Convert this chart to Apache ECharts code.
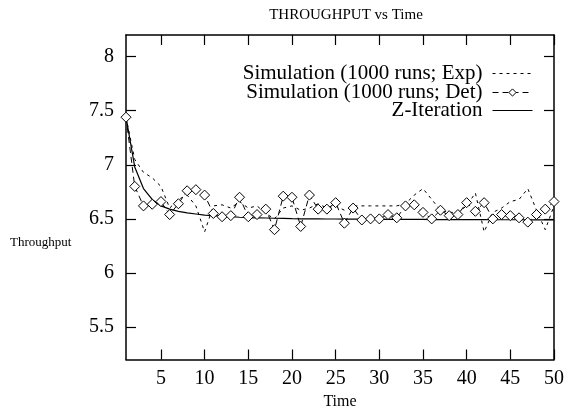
<!DOCTYPE html>
<html><head><meta charset="utf-8">
<script src="https://cdn.jsdelivr.net/npm/echarts@6/dist/echarts.min.js"></script>
<style>html,body{margin:0;padding:0;background:#fff}#c{width:567px;height:418px}</style>
</head><body><div id="c"></div>
<script>
const time = [1,2,3,4,5,6,7,8,9,10,11,12,13,14,15,16,17,18,19,20,21,22,23,24,25,26,27,28,29,30,31,32,33,34,35,36,37,38,39,40,41,42,43,44,45,46,47,48,49,50];
const simExp = [7.44,7.05,6.93,6.88,6.80,6.60,6.68,6.72,6.62,6.38,6.62,6.63,6.60,6.66,6.60,6.62,6.55,6.50,6.60,6.62,6.58,6.60,6.64,6.60,6.62,6.58,6.62,6.62,6.62,6.62,6.62,6.62,6.64,6.72,6.78,6.68,6.58,6.56,6.56,6.62,6.74,6.38,6.56,6.60,6.66,6.68,6.78,6.58,6.40,6.62];
const simDet = [7.44,6.80,6.62,6.635,6.66,6.54,6.64,6.76,6.77,6.72,6.55,6.52,6.53,6.70,6.52,6.54,6.59,6.40,6.71,6.70,6.43,6.72,6.59,6.59,6.65,6.46,6.60,6.49,6.50,6.50,6.54,6.51,6.62,6.63,6.56,6.50,6.58,6.53,6.54,6.65,6.57,6.65,6.50,6.54,6.53,6.51,6.47,6.54,6.59,6.66];
const zIter = [7.44,6.98,6.78,6.68,6.62,6.59,6.57,6.555,6.545,6.535,6.53,6.525,6.52,6.515,6.512,6.51,6.508,6.506,6.504,6.502,6.501,6.50,6.50,6.499,6.499,6.498,6.498,6.497,6.497,6.496,6.496,6.496,6.495,6.495,6.495,6.494,6.494,6.494,6.493,6.493,6.493,6.493,6.492,6.492,6.492,6.492,6.491,6.491,6.491,6.491];
const xTicks = [5,10,15,20,25,30,35,40,45,50];
const yTicks = [5.5,6,6.5,7,7.5,8];
const names = ['Simulation (1000 runs; Exp)','Simulation (1000 runs; Det)','Z-Iteration'];
const titleText = 'THROUGHPUT vs Time';
const xName = 'Time', yName = 'Throughput';

const FONT = '"Liberation Serif","DejaVu Serif",serif';
const chart = echarts.init(document.getElementById('c'), null, {renderer:'canvas'});
const pair = arr => time.map((t,i)=>[t, arr[i]]);
const axLine = {show:true, onZero:false, lineStyle:{color:'#000', width:1.5}};
const tick = vals => ({show:true, inside:true, length:10, customValues:vals, lineStyle:{color:'#000', width:1.2}});
const legendBase = (name, top, hideSym) => ({
  data:[name], right:34, top:top, orient:'vertical', align:'right',
  itemWidth:40, itemHeight:9, padding:0,
  itemStyle: hideSym ? {opacity:0} : {color:'#fff', borderColor:'#000', borderWidth:1},
  lineStyle:{width:1, color:'#000'},
  textStyle:{fontFamily:FONT, fontSize:21, color:'#000', padding:[0,5,0,0]},
  inactiveColor:'#000'
});
chart.setOption({
  animation:false,
  backgroundColor:'#fff',
  title:{text:titleText, left:341, textAlign:'center', top:3, textStyle:{fontFamily:FONT, fontSize:15, fontWeight:'normal', color:'#000'}},
  legend:[legendBase(names[0],63,true), legendBase(names[1],82,false), legendBase(names[2],100,true)],
  grid:{left:126, right:10, top:35, bottom:58.5, containLabel:false},
  xAxis:[
    {type:'value', min:1, max:50, axisLine:axLine, axisTick:tick(xTicks), splitLine:{show:false},
     axisLabel:{customValues:xTicks, fontFamily:FONT, fontSize:20, color:'#000', margin:9},
     name:xName, nameLocation:'middle', nameGap:29, nameTextStyle:{fontFamily:FONT, fontSize:16, color:'#000'}},
    {type:'value', position:'top', min:1, max:50, axisLine:axLine, axisTick:tick(xTicks), splitLine:{show:false}, axisLabel:{show:false}}
  ],
  yAxis:[
    {type:'value', min:5.2, max:8.2, axisLine:axLine, axisTick:tick(yTicks), splitLine:{show:false},
     axisLabel:{customValues:yTicks, fontFamily:FONT, fontSize:20, color:'#000', margin:12}},
    {type:'value', position:'right', min:5.2, max:8.2, axisLine:axLine, axisTick:tick(yTicks), splitLine:{show:false}, axisLabel:{show:false}}
  ],
  graphic:[{type:'text', left:10, top:236, style:{text:yName, font:'13px '+FONT, fill:'#000'}}],
  series:[
    {name:names[0], type:'line', data:pair(simExp), showSymbol:false, symbol:'none', color:'#000',
     lineStyle:{color:'#000', width:1, type:[3,4]}, z:2},
    {name:names[2], type:'line', data:pair(zIter), showSymbol:false, symbol:'none', color:'#000',
     lineStyle:{color:'#000', width:1.2, type:'solid'}, z:3},
    {name:names[1], type:'line', data:pair(simDet), symbol:'diamond', symbolSize:10, showSymbol:true, color:'#000',
     itemStyle:{color:'#fff', borderColor:'#000', borderWidth:1}, lineStyle:{color:'#000', width:1, type:[6,4]}, z:4}
  ]
});
</script>
</body></html>
